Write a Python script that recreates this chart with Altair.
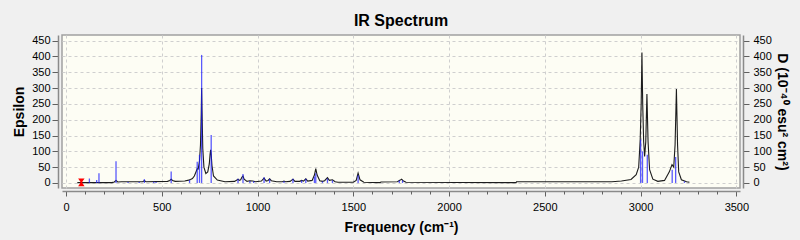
import altair as alt
import pandas as pd

# ---- data ----
curve_freq = [59, 240, 252, 261, 270, 290, 400, 409, 418, 530, 542, 549, 556, 570, 620, 640, 650,
              660, 670, 680, 685, 690, 697, 702, 706, 708, 710, 714, 720, 730, 740, 748, 752, 755,
              758, 762, 770, 790, 830, 880, 892, 898, 904, 912, 918, 924, 930, 945, 960, 975, 990,
              1020, 1034, 1045, 1055, 1063, 1072, 1100, 1130, 1138, 1146, 1170, 1185, 1195, 1220,
              1230, 1240, 1252, 1262, 1285, 1297, 1304, 1311, 1325, 1339, 1350, 1365, 1375, 1391,
              1405, 1420, 1500, 1515, 1525, 1535, 1555, 1640, 1644, 1730, 1745, 1752, 1760, 1775,
              2350, 2352, 2850, 2900, 2950, 2977, 2990, 2998, 3003, 3007, 3011, 3016, 3021, 3027,
              3033, 3039, 3047, 3064, 3090, 3125, 3150, 3164, 3173, 3180, 3187, 3193, 3199, 3213,
              3240, 3255]
curve_eps = [1, 1, 3, 8, 3, 4, 4, 7, 4, 5, 8, 12, 8, 5, 6, 9, 11,
             14, 22, 37, 45, 44, 70, 120, 220, 300, 230, 110, 50, 30, 35, 60, 90, 105,
             90, 55, 22, 9, 4, 5, 9, 12, 8, 10, 18, 22, 12, 5, 7, 6, 4,
             6, 15, 6, 8, 13, 7, 4, 4, 6, 4, 5, 12, 5, 5,
             8, 6, 13, 6, 8, 25, 45, 25, 7, 5, 7, 17, 8, 10,
             4, 2, 2, 8, 31, 10, 2, 1, 3, 4, 9, 12, 7, 2,
             1, 4, 4, 6, 11, 26, 50, 137, 250, 413, 250, 130, 84, 130,
             281, 130, 42, 12, 5, 8, 35, 58, 50, 120, 297, 120, 35, 10,
             4, 2]

stick_freq = [122, 160, 172, 261, 324, 382, 409, 458, 470, 549, 645, 685, 697, 708, 758,
              898, 924, 960, 980, 1034, 1063, 1138, 1185, 1230, 1252, 1297, 1304, 1339, 1365,
              1391, 1525, 1740, 1757, 3000, 3010, 3035, 3165, 3183, 3229]
stick_d = [14, 9, 31, 69, 3, 3, 12, 4, 3, 36, 9, 67, 89, 405, 152,
           13, 28, 6, 5, 18, 13, 5, 13, 8, 13, 20, 31, 5, 14,
           8, 24, 8, 8, 137, 100, 89, 42, 82, 5]

marker_freq = [80]
marker_val = [2]

x_major = [0, 500, 1000, 1500, 2000, 2500, 3000, 3500]
x_minor = [100, 200, 300, 400, 600, 700, 800, 900, 1100, 1200, 1300, 1400, 1600, 1700, 1800,
           1900, 2100, 2200, 2300, 2400, 2600, 2700, 2800, 2900, 3100, 3200, 3300, 3400]
y_ticks = [0, 50, 100, 150, 200, 250, 300, 350, 400, 450]

curve_df = pd.DataFrame({"freq": curve_freq, "eps": curve_eps})
stick_df = pd.DataFrame({"freq": stick_freq, "d": stick_d})
marker_df = pd.DataFrame({"freq": marker_freq, "v": marker_val})

FONT = "Liberation Sans"
xs = alt.Scale(domain=[-21, 3519], nice=False, zero=False)
ys = alt.Scale(domain=[-16, 468], nice=False, zero=False)

curve = alt.Chart(curve_df).mark_line(color="#1c1c1c", strokeWidth=1.1).encode(
    x=alt.X("freq:Q", scale=xs, axis=alt.Axis(
        values=x_major, title="Frequency (cm⁻¹)", grid=True, gridDash=[3, 3],
        gridColor="#cfcfcf", offset=3, tickSize=5, labelPadding=5, format="d",
        domainColor="#8a8a8a", domainWidth=1.5, tickColor="#606060", titlePadding=8)),
    y=alt.Y("eps:Q", scale=ys, axis=alt.Axis(
        values=y_ticks, title="Epsilon", orient="left", grid=True, gridDash=[3, 3],
        gridColor="#cfcfcf", offset=4, tickSize=6, labelPadding=2,
        domainColor="#8a8a8a", domainWidth=1.5, tickColor="#606060", titlePadding=5)),
)

sticks = alt.Chart(stick_df).mark_rule(color="#1a1aff", strokeWidth=1.3, opacity=0.72).encode(
    x=alt.X("freq:Q", scale=xs, axis=alt.Axis(
        values=x_minor, labels=False, title=None, grid=False, domain=False,
        offset=3, tickSize=3, tickColor="#606060", orient="bottom")),
    y=alt.Y("d:Q", scale=ys, axis=alt.Axis(
        values=y_ticks, title="D (10⁻⁴⁰ esu² cm²)", orient="right", grid=False,
        offset=3, tickSize=6, labelPadding=4,
        domainColor="#8a8a8a", domainWidth=1.5, tickColor="#606060", titlePadding=3)),
    y2=alt.datum(0),
)

hourglass = "M-1,-1.2L1,-1.2L0.3,-0.2L0.3,0.2L1,1.2L-1,1.2L-0.3,0.2L-0.3,-0.2Z"
marker = alt.Chart(marker_df).mark_point(
    shape=hourglass, filled=True, color="#ff0000", opacity=1, size=42).encode(
    x=alt.X("freq:Q", scale=xs, axis=None),
    y=alt.Y("v:Q", scale=ys, axis=None),
)

chart = alt.layer(curve, sticks, marker).resolve_axis(
    x="independent", y="independent"
).properties(
    width=678, height=153,
    title=alt.TitleParams("IR Spectrum", fontSize=16, fontWeight="bold", font=FONT,
                          anchor="middle", offset=6, color="#000000"),
    background="#f0f0f0",
    padding={"left": 62, "top": 35, "right": 60, "bottom": 52},
    autosize=alt.AutoSizeParams(type="none"),
).configure_view(
    fill="#fdfdf4", stroke="#a0a0a0", strokeWidth=1.5
).configure_axis(
    labelFont=FONT, labelFontSize=11, labelColor="#000000",
    titleFont=FONT, titleFontSize=14, titleFontWeight="bold", titleColor="#000000",
)

chart.save("out.html", embed_options={"renderer": "svg", "actions": False})
